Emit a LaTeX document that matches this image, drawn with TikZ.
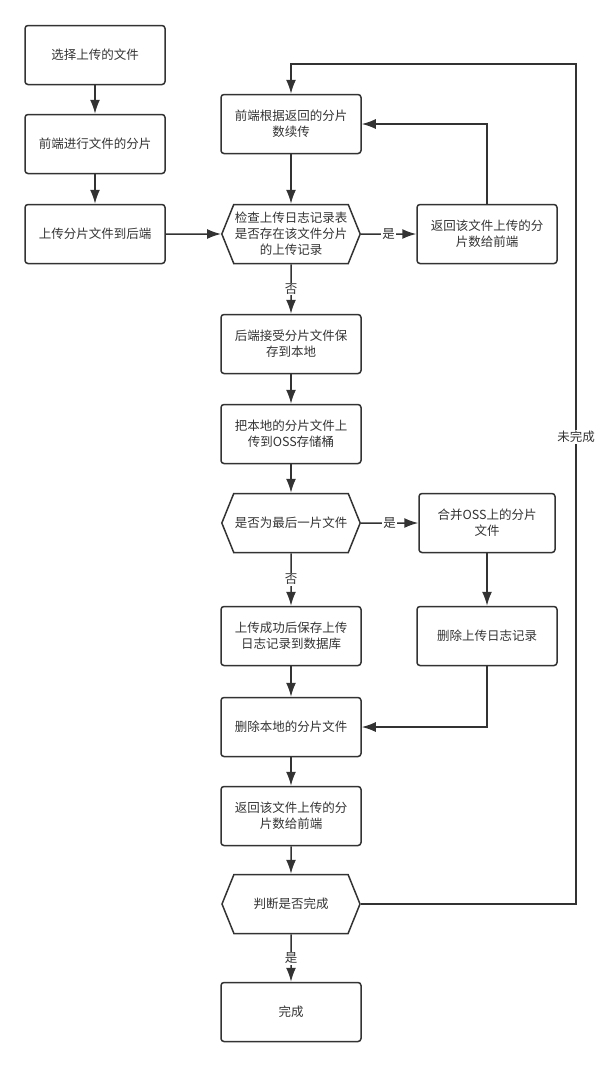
\documentclass[tikz,border=0pt]{standalone}
\usepackage{fontspec}
\setmainfont{Noto Sans CJK SC}
\usepackage{tikz}
\usetikzlibrary{arrows.meta,positioning,shapes.symbols}
\definecolor{FlowLine}{HTML}{333333}
\definecolor{FlowText}{HTML}{333333}

\begin{document}
\begin{tikzpicture}[
    x=1pt,y=-1pt,
    proc/.style={draw=FlowLine, line width=1.5pt, rounded corners=3pt, minimum width=140pt, minimum height=59pt, inner sep=1pt, align=center, text=FlowText, font=\fontsize{12.5}{16}\selectfont},
    judge/.style={proc, sharp corners, shape=signal, signal to=west and east, signal pointer angle=136, minimum width=138pt},
    flow/.style={-{Latex[length=14pt,width=10pt]}, draw=FlowLine, line width=1.5pt},
    tag/.style={fill=white, inner sep=1pt, text=FlowText, font=\fontsize{12.5}{14}\selectfont}
  ]
    \useasboundingbox (0,0) rectangle (610,1066);

    \node[proc] (pick) at (95,55) {选择上传的文件};
    \node[proc] (slice) at (95,144) {前端进行文件的分片};
    \node[proc] (send) at (95,234) {上传分片文件到后端};
    \node[proc] (resume) at (291,124) {前端根据返回的分片\\数续传};
    \node[judge] (check) at (291,234) {检查上传日志记录表\\是否存在该文件分片\\的上传记录};
    \node[proc] (back1) at (487,234) {返回该文件上传的分\\片数给前端};
    \node[proc] (save) at (291,344) {后端接受分片文件保\\存到本地};
    \node[proc] (oss) at (291,434) {把本地的分片文件上\\传到OSS存储桶};
    \node[judge] (last) at (291,523) {是否为最后一片文件};
    \node[proc, minimum width=136pt] (merge) at (487,523) {合并OSS上的分片\\文件};
    \node[proc] (logok) at (291,636) {上传成功后保存上传\\日志记录到数据库};
    \node[proc] (dellog) at (487,636) {删除上传日志记录};
    \node[proc] (dellocal) at (291,727) {删除本地的分片文件};
    \node[proc] (back2) at (291,816) {返回该文件上传的分\\片数给前端};
    \node[judge] (done) at (291,904) {判断是否完成};
    \node[proc] (finish) at (291,1012) {完成};
    \coordinate (loopR) at (576,64);

    \draw[flow] (pick) -- (slice);
    \draw[flow] (slice) -- (send);
    \draw[flow] (send) -- (check);
    \draw[flow] (resume) -- (check);
    \draw[flow] (check) -- node[tag]{是} (back1);
    \draw[flow] (back1.north) |- (resume.east);
    \draw[flow] (check) -- node[tag]{否} (save);
    \draw[flow] (save) -- (oss);
    \draw[flow] (oss) -- (last);
    \draw[flow] (last) -- node[tag]{是} (merge);
    \draw[flow] (last) -- node[tag]{否} (logok);
    \draw[flow] (merge) -- (dellog);
    \draw[flow] (logok) -- (dellocal);
    \draw[flow] (dellog.south) |- (dellocal.east);
    \draw[flow] (dellocal) -- (back2);
    \draw[flow] (back2) -- (done);
    \draw[flow] (done) -- node[tag]{是} (finish);
    \draw[flow] (done.east) -| node[tag, pos=0.778]{未完成} (loopR) -| (resume.north);
  \end{tikzpicture}
\end{document}
